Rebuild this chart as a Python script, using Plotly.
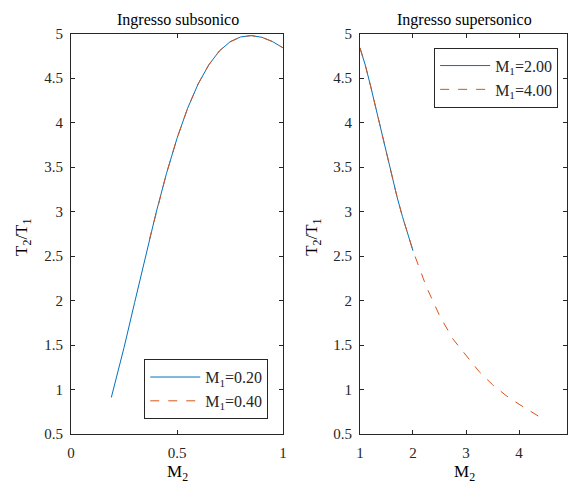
import plotly.graph_objects as go

# Left panel: subsonic inlet
sub_M2_a = [0.19, 0.25, 0.30, 0.35, 0.40, 0.45, 0.50, 0.55, 0.60, 0.65, 0.70, 0.75, 0.80, 0.85, 0.90, 0.95, 1.00]
sub_T_a = [0.912, 1.473, 1.979, 2.488, 2.977, 3.427, 3.824, 4.162, 4.437, 4.650, 4.806, 4.908, 4.963, 4.978, 4.959, 4.911, 4.840]
sub_M2_b = [0.37, 0.40, 0.45, 0.50, 0.55, 0.60, 0.65, 0.70, 0.75, 0.80, 0.85, 0.90, 0.95, 1.00]
sub_T_b = [2.688, 2.977, 3.427, 3.824, 4.162, 4.437, 4.650, 4.806, 4.908, 4.963, 4.978, 4.959, 4.911, 4.840]

# Right panel: supersonic inlet
sup_M2_a = [1.0, 1.1, 1.2, 1.3, 1.4, 1.5, 1.6, 1.7, 1.8, 1.9, 2.0]
sup_T_a = [4.840, 4.648, 4.413, 4.158, 3.898, 3.642, 3.396, 3.164, 2.947, 2.746, 2.560]
sup_M2_b = [1.0, 1.1, 1.2, 1.3, 1.4, 1.5, 1.6, 1.7, 1.8, 1.9, 2.0, 2.25, 2.5, 2.75, 3.0, 3.25, 3.5, 3.75, 4.0, 4.2, 4.37]
sup_T_b = [4.840, 4.648, 4.413, 4.158, 3.898, 3.642, 3.396, 3.164, 2.947, 2.746, 2.560, 2.158, 1.833, 1.570,
           1.380, 1.200, 1.055, 0.935, 0.835, 0.765, 0.700]

labels_left = ["M<sub>1</sub>=0.20", "M<sub>1</sub>=0.40"]
labels_right = ["M<sub>1</sub>=2.00", "M<sub>1</sub>=4.00"]
y_ticks = [0.5, 1, 1.5, 2, 2.5, 3, 3.5, 4, 4.5, 5]

BLUE = "#0072BD"
RED = "#D95319"
FONT = "Liberation Serif"
INK = "#262626"
W, H = 571, 489

fig = go.Figure()
fig.add_trace(go.Scatter(x=sub_M2_a, y=sub_T_a, mode="lines", line=dict(color=BLUE, width=1),
                         name=labels_left[0], xaxis="x", yaxis="y", legend="legend"))
fig.add_trace(go.Scatter(x=sub_M2_b, y=sub_T_b, mode="lines", line=dict(color=RED, width=1, dash="dash"),
                         name=labels_left[1], xaxis="x", yaxis="y", legend="legend"))
fig.add_trace(go.Scatter(x=sup_M2_a, y=sup_T_a, mode="lines", line=dict(color=BLUE, width=1),
                         name=labels_right[0], xaxis="x2", yaxis="y2", legend="legend2"))
fig.add_trace(go.Scatter(x=sup_M2_b, y=sup_T_b, mode="lines", line=dict(color=RED, width=1, dash="dash"),
                         name=labels_right[1], xaxis="x2", yaxis="y2", legend="legend2"))

ax_common = dict(showline=True, linecolor=INK, linewidth=1, mirror="ticks", ticks="inside",
                 ticklen=4, tickcolor=INK, showgrid=False, zeroline=False,
                 tickfont=dict(family=FONT, size=15, color=INK))

ydom = [1 - 440.5 / H, 1 - 26.5 / H]
fig.update_layout(
    width=W, height=H, margin=dict(l=0, r=0, t=0, b=0),
    paper_bgcolor="white", plot_bgcolor="white",
    font=dict(family=FONT, size=15, color=INK),
    xaxis=dict(domain=[68 / W, 283 / W], range=[0, 1], tickvals=[0, 0.5, 1], ticktext=["0", "0.5", "1"],
               anchor="y", ticklabelstandoff=5, **ax_common),
    yaxis=dict(domain=ydom, range=[0.5, 5], tickvals=y_ticks, anchor="x", ticklabelstandoff=4, **ax_common),
    xaxis2=dict(domain=[361 / W, 1.0], range=[1, 1 + (W - 361) / 53.8], tickvals=[1, 2, 3, 4, 5],
                anchor="y2", ticklabelstandoff=5, **ax_common),
    yaxis2=dict(domain=ydom, range=[0.5, 5], tickvals=y_ticks, anchor="x2", ticklabelstandoff=4, **ax_common),
    legend=dict(x=268 / W, xanchor="right", y=1 - 363 / H, yanchor="top", bgcolor="white",
                bordercolor=INK, borderwidth=1, itemwidth=50, tracegroupgap=0,
                font=dict(family=FONT, size=16, color=INK)),
    legend2=dict(x=562 / W, xanchor="right", y=1 - 41 / H, yanchor="top", bgcolor="white",
                 bordercolor=INK, borderwidth=1, itemwidth=50,
                 font=dict(family=FONT, size=16, color=INK)),
    showlegend=True,
)

anns = [
    dict(text="Ingresso subsonico", x=176 / W, y=1 - 12 / H),
    dict(text="Ingresso supersonico", x=467 / W, y=1 - 12 / H),
    dict(text="M<sub>2</sub>", x=176 / W, y=1 - 481 / H, size=17),
    dict(text="M<sub>2</sub>", x=467 / W, y=1 - 481 / H, size=17),
    dict(text="T<sub>2</sub>/T<sub>1</sub>", x=20 / W, y=1 - 237 / H, size=17, angle=-90),
    dict(text="T<sub>2</sub>/T<sub>1</sub>", x=314 / W, y=1 - 237 / H, size=17, angle=-90),
]
for a in anns:
    fig.add_annotation(text=a["text"], x=a["x"], y=a["y"], xref="paper", yref="paper",
                       xanchor="center", yanchor="middle", showarrow=False,
                       textangle=a.get("angle", 0),
                       font=dict(family=FONT, size=a.get("size", 16), color="black"))

fig.write_html("out.html", config={"displayModeBar": False},
               post_script="document.body.style.margin='0';document.body.style.overflow='hidden';")
